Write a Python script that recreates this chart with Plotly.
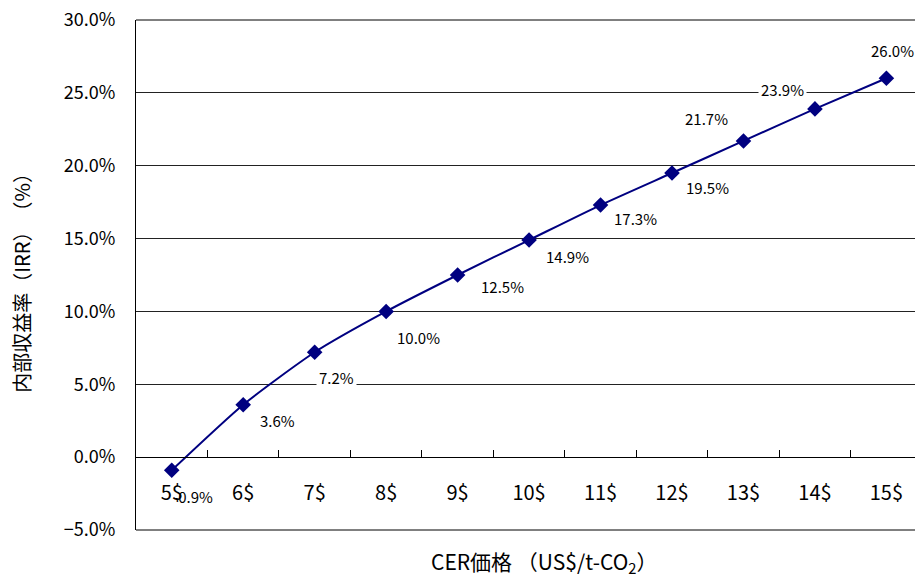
import plotly.graph_objects as go

# CER price categories and resulting internal rate of return (%)
prices = ["5$", "6$", "7$", "8$", "9$", "10$", "11$", "12$", "13$", "14$", "15$"]
irr = [-0.9, 3.6, 7.2, 10.0, 12.5, 14.9, 17.3, 19.5, 21.7, 23.9, 26.0]

y_ticks = [-5, 0, 5, 10, 15, 20, 25, 30]

# pixel offsets of each value label relative to its marker
label_dx = [21, 34, 22, 32, 45, 38, 35, 35, -37, -32, 6]
label_dy = [-26, -16, -25, -26, -11, -16, -13, -14, 22, 19, 28]

FONT = "Noto Sans CJK JP, Noto Sans, sans-serif"
NAVY = "#000080"

fig = go.Figure()
fig.add_trace(go.Scatter(
    x=prices, y=irr, mode="lines+markers",
    line=dict(color=NAVY, width=2, shape="spline", smoothing=0.6),
    marker=dict(symbol="diamond", size=12, color=NAVY),
    hoverinfo="skip", showlegend=False,
))

for i, (p, v) in enumerate(zip(prices, irr)):
    fig.add_annotation(
        x=p, y=v, xref="x", yref="y", text=f"{v:.1f}%", showarrow=False,
        xshift=label_dx[i], yshift=label_dy[i],
        font=dict(family=FONT, size=15, color="#000"),
        bgcolor="rgba(0,0,0,0)" if i == 0 else "white", borderpad=2,
    )

# axis titles
fig.add_annotation(
    xref="paper", yref="paper", x=-0.148, y=0.494, textangle=-90,
    text="内部収益率（IRR）　（%）", showarrow=False,
    font=dict(family=FONT, size=20, color="#000"), xanchor="center", yanchor="middle",
)
fig.add_annotation(
    xref="paper", yref="paper", x=0.524, y=-0.062,
    text="CER価格 （US$/t-CO<sub>2</sub>）", showarrow=False,
    font=dict(family=FONT, size=21, color="#000"), xanchor="center", yanchor="middle",
)

# plot-area frame: top and bottom edges
for yy in (0, 1):
    fig.add_shape(type="line", xref="paper", yref="paper", x0=0, x1=1, y0=yy, y1=yy,
                  line=dict(color="#000", width=1))

fig.update_layout(
    width=915, height=581,
    margin=dict(l=136, r=0, t=20, b=51),
    paper_bgcolor="white", plot_bgcolor="white",
    font=dict(family=FONT, color="#000"),
    xaxis=dict(
        type="category", range=[-0.5, 10.4],
        anchor="free", position=5 / 35,
        showline=True, linecolor="#000", linewidth=1,
        ticks="inside", ticklen=7, tickcolor="#000", tickson="boundaries",
        showgrid=False, zeroline=False,
        tickfont=dict(family=FONT, size=20, color="#000"),
        ticklabelstandoff=18,
    ),
    yaxis=dict(
        range=[-5, 30], tickvals=y_ticks,
        ticktext=[f"{t:.1f}%".replace("-", "\u2212") for t in y_ticks],
        showline=True, linecolor="#000", linewidth=1,
        showgrid=True, gridcolor="#222", gridwidth=1, zeroline=False,
        ticks="", ticklabelstandoff=16,
        tickfont=dict(family=FONT, size=18, color="#000"),
    ),
)

fig.write_html("out.html")
